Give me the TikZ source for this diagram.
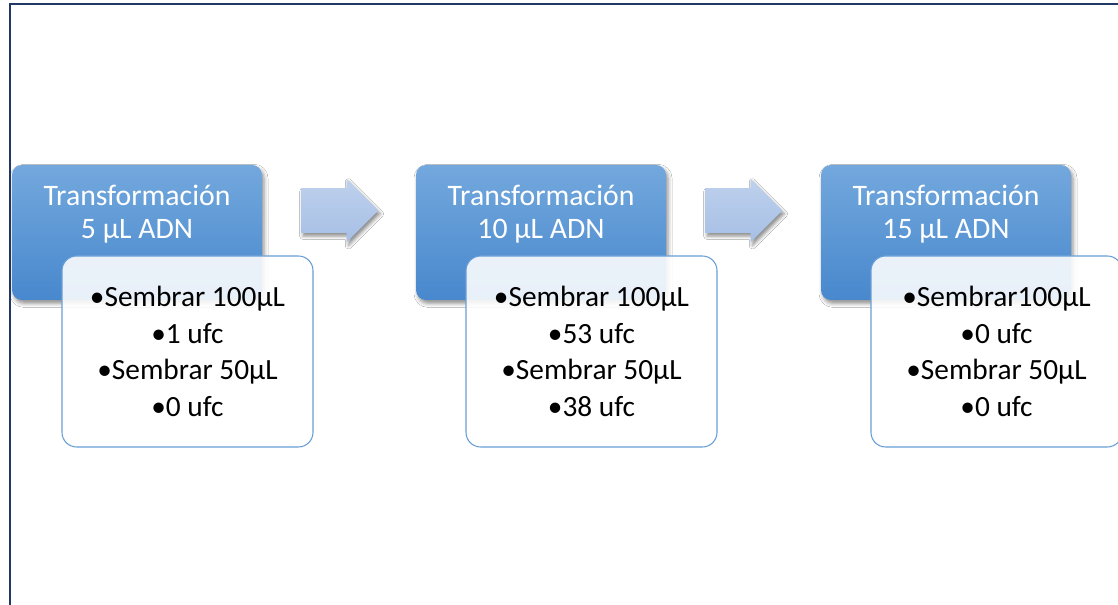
\documentclass[tikz,border=0pt]{standalone}
\usepackage{fontspec}
\setmainfont{Carlito}
\usetikzlibrary{shapes.arrows,shadows.blur}
\definecolor{frameblue}{RGB}{31,56,100}
\definecolor{boxtop}{RGB}{115,168,221}
\definecolor{boxbot}{RGB}{72,136,205}
\definecolor{arrtop}{RGB}{190,209,237}
\definecolor{arrbot}{RGB}{166,191,229}
\definecolor{wline}{RGB}{104,158,214}
\begin{document}
\begin{tikzpicture}[x=0.75pt,y=-0.75pt,
  bluebox/.style={rectangle, rounded corners=7.5pt, minimum width=187.5pt, minimum height=101.25pt,
    inner sep=0pt, top color=boxtop, bottom color=boxbot, draw=none,
    blur shadow={shadow xshift=1.5pt, shadow yshift=-2.5pt, shadow blur radius=3pt, shadow opacity=45}},
  whitebox/.style={rectangle, rounded corners=11pt, minimum width=188.25pt, minimum height=143.25pt,
    inner sep=0pt, draw=wline, line width=0.8pt, fill=white, fill opacity=0.88, text opacity=1,
    align=center, font=\fontsize{22pt}{27.3pt}\selectfont},
  titletext/.style={align=center, text=white, inner sep=0pt, font=\fontsize{22.3pt}{24.75pt}\selectfont},
  flowarrow/.style={single arrow, shape border rotate=0, minimum height=58pt,
    inner xsep=0pt, inner ysep=16.5pt, single arrow head extend=7.1pt, outer sep=0pt,
    top color=arrtop, bottom color=arrbot, draw=none, anchor=tail,
    blur shadow={shadow xshift=1.5pt, shadow yshift=-2.5pt, shadow blur radius=2.5pt, shadow opacity=45}},
  frame/.style={draw=frameblue, line width=1.5pt}]
\clip (0,0) rectangle (1118,605);
\fill[white] (0,0) rectangle (1118,605);
\coordinate (ftop) at (1118,4);
\coordinate (fcorner) at (10,4);
\coordinate (fbot) at (10,605);
\draw[frame] (ftop) -- (fcorner) -- (fbot);

\node[bluebox] (b1) at (137,232.5) {};
\node[bluebox] (b2) at (541,232.5) {};
\node[bluebox] (b3) at (946,232.5) {};

\node[titletext] (t1) at (137,214) {Transformación\\5 µL ADN};
\node[titletext] (t2) at (541,214) {Transformación\\10 µL ADN};
\node[titletext] (t3) at (946,214) {Transformación\\15 µL ADN};

\node[whitebox] (w1) at (187.5,351.5) {•Sembrar 100µL\\•1 ufc\\•Sembrar 50µL\\•0 ufc};
\node[whitebox] (w2) at (591.5,351.5) {•Sembrar 100µL\\•53 ufc\\•Sembrar 50µL\\•38 ufc};
\node[whitebox] (w3) at (996.5,351.5) {•Sembrar100µL\\•0 ufc\\•Sembrar 50µL\\•0 ufc};

\node[flowarrow] (a1) at (301,210.5) {};
\node[flowarrow] (a2) at (705,210.5) {};
\end{tikzpicture}
\end{document}
